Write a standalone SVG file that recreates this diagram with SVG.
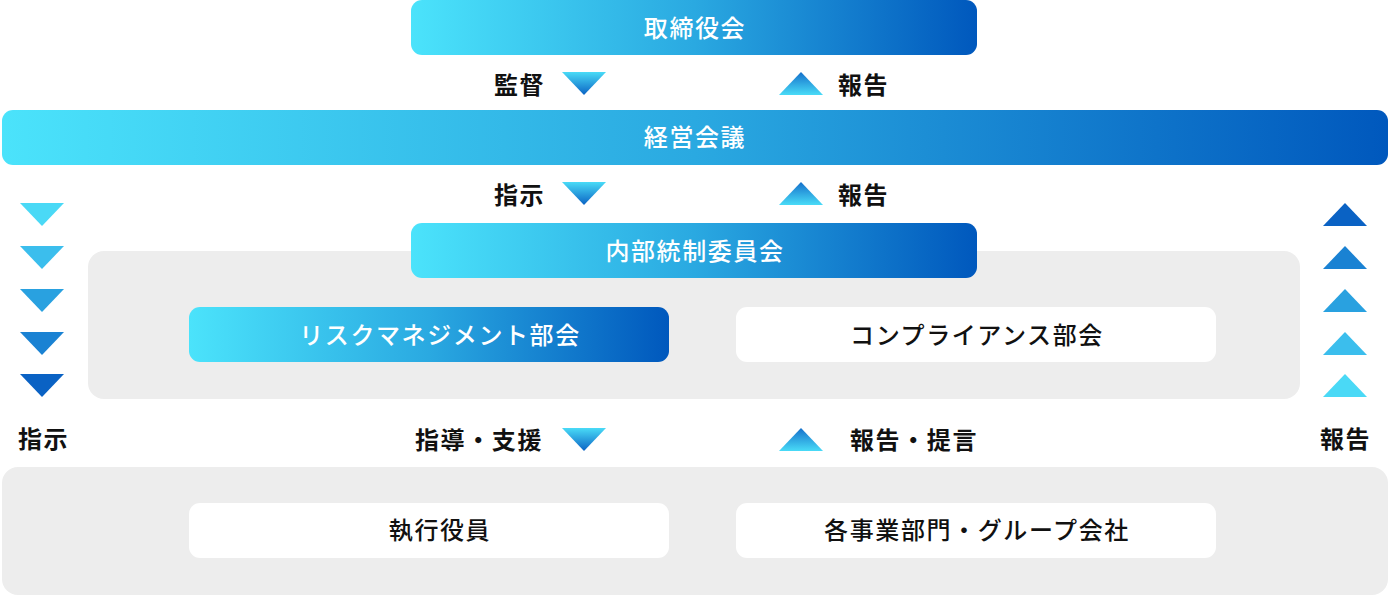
<svg xmlns="http://www.w3.org/2000/svg" width="1388" height="596" viewBox="0 0 1388 596">
<defs>
<linearGradient id="gBox" x1="0" y1="0" x2="1" y2="0">
<stop offset="0" stop-color="#4be3fb"/>
<stop offset="0.5" stop-color="#2aa9e1"/>
<stop offset="1" stop-color="#0058bd"/>
</linearGradient>
<linearGradient id="gDown" x1="0" y1="0" x2="0" y2="1">
<stop offset="0" stop-color="#49dbf7"/>
<stop offset="1" stop-color="#0b63c4"/>
</linearGradient>
<linearGradient id="gUp" x1="0" y1="0" x2="0" y2="1">
<stop offset="0" stop-color="#1570cb"/>
<stop offset="1" stop-color="#49dbf7"/>
</linearGradient>
<path id="triD" d="M0,0 H44 L22,23 Z"/>
<path id="triU" d="M22,0 L44,23 H0 Z"/>
</defs>
<style>
.panel{fill:#ededed}
.gbox{fill:url(#gBox)}
.wbox{fill:#ffffff}
.wt{font-family:"Noto Sans CJK JP","Noto Sans",sans-serif;font-size:24px;font-weight:500;fill:#ffffff;letter-spacing:1.6px;text-anchor:middle}
.bt{font-family:"Noto Sans CJK JP","Noto Sans",sans-serif;font-size:24px;font-weight:500;fill:#111111;letter-spacing:1.6px;text-anchor:middle}
.lbl{font-family:"Noto Sans CJK JP","Noto Sans",sans-serif;font-size:24px;font-weight:700;fill:#111111;letter-spacing:1.6px}
</style>
<rect width="1388" height="596" fill="#ffffff"/>

<g id="panel-internal"><rect class="panel" x="88" y="251" width="1212" height="148" rx="16"/></g>
<g id="panel-exec"><rect class="panel" x="2" y="467" width="1386" height="128" rx="16"/></g>

<g id="board"><rect class="gbox" x="411" y="0" width="566" height="55" rx="11"/><text class="wt" x="695" y="37">取締役会</text></g>
<g id="mgmt"><rect class="gbox" x="2" y="110" width="1386" height="55" rx="11"/><text class="wt" x="695" y="146">経営会議</text></g>
<g id="icc"><rect class="gbox" x="411" y="223" width="566" height="55" rx="11"/><text class="wt" x="695" y="260">内部統制委員会</text></g>
<g id="risk"><rect class="gbox" x="189" y="307" width="480" height="55" rx="11"/><text class="wt" x="440" y="344">リスクマネジメント部会</text></g>
<g id="compliance"><rect class="wbox" x="736" y="307" width="480" height="55" rx="11"/><text class="bt" x="977" y="344">コンプライアンス部会</text></g>
<g id="officers"><rect class="wbox" x="189" y="503" width="480" height="55" rx="11"/><text class="bt" x="440" y="539">執行役員</text></g>
<g id="divisions"><rect class="wbox" x="736" y="503" width="480" height="55" rx="11"/><text class="bt" x="977" y="539">各事業部門・グループ会社</text></g>

<g id="connectors">
<use href="#triD" x="562" y="72" fill="url(#gDown)"/>
<use href="#triU" x="779" y="72" fill="url(#gUp)"/>
<use href="#triD" x="562" y="182" fill="url(#gDown)"/>
<use href="#triU" x="779" y="182" fill="url(#gUp)"/>
<use href="#triD" x="562" y="428" fill="url(#gDown)"/>
<use href="#triU" x="779" y="428" fill="url(#gUp)"/>
<use href="#triD" x="20" y="203" fill="#4ad9f6"/>
<use href="#triD" x="20" y="246" fill="#3bbeed"/>
<use href="#triD" x="20" y="289" fill="#29a1e0"/>
<use href="#triD" x="20" y="332" fill="#1a82d3"/>
<use href="#triD" x="20" y="374" fill="#0a62c4"/>
<use href="#triU" x="1323" y="203" fill="#0a62c4"/>
<use href="#triU" x="1323" y="246" fill="#1a82d3"/>
<use href="#triU" x="1323" y="289" fill="#29a1e0"/>
<use href="#triU" x="1323" y="332" fill="#3bbeed"/>
<use href="#triU" x="1323" y="374" fill="#4ad9f6"/>
</g>

<g id="labels">
<text class="lbl" x="494" y="94">監督</text>
<text class="lbl" x="838" y="94">報告</text>
<text class="lbl" x="494" y="204">指示</text>
<text class="lbl" x="838" y="204">報告</text>
<text class="lbl" x="415" y="449">指導・支援</text>
<text class="lbl" x="850" y="449">報告・提言</text>
<text class="lbl" x="18" y="448">指示</text>
<text class="lbl" x="1320" y="448">報告</text>
</g>
</svg>
